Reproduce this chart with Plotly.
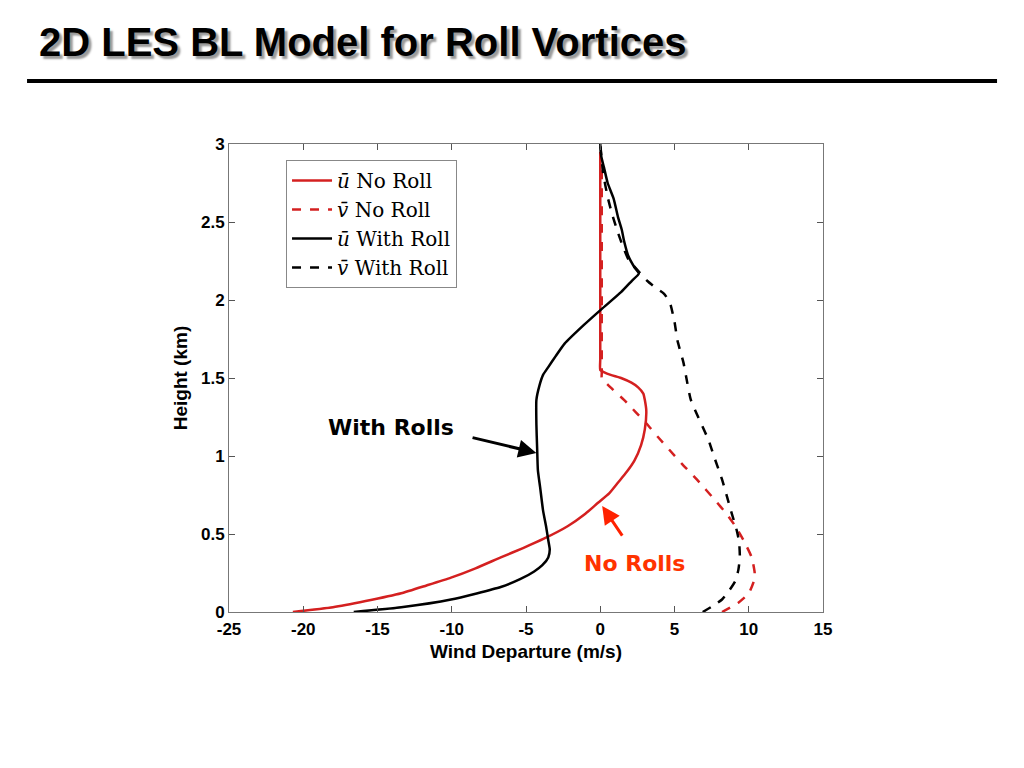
import plotly.graph_objects as go

# ---- data ----
red_u_y = [0, 0.03, 0.07, 0.12, 0.17, 0.22, 0.28, 0.35, 0.41, 0.47, 0.55, 0.63, 0.70, 0.76, 0.83, 0.90, 0.97, 1.07, 1.17, 1.29, 1.36, 1.40, 1.44, 1.47, 1.50, 1.52, 1.54, 1.55, 1.62, 2.00, 2.50, 2.95]
red_u_x = [-20.7, -18.0, -15.8, -13.4, -11.7, -10.05, -8.4, -6.7, -5.2, -3.8, -2.2, -1.0, -0.15, 0.6, 1.2, 1.8, 2.3, 2.75, 3.0, 3.1, 3.0, 2.9, 2.55, 2.1, 1.4, 0.7, 0.2, 0.0, 0.0, 0.0, 0.0, 0.0]

red_v_y = [0, 0.06, 0.12, 0.20, 0.25, 0.35, 0.45, 0.55, 0.63, 0.72, 0.85, 0.95, 1.04, 1.12, 1.21, 1.28, 1.36, 1.43, 1.50, 1.53, 1.62, 2.00, 2.50, 2.90]
red_v_x = [8.2, 9.3, 10.0, 10.35, 10.4, 10.2, 9.7, 9.1, 8.5, 7.7, 6.5, 5.5, 4.65, 3.9, 3.1, 2.4, 1.6, 0.8, 0.1, 0.1, 0.1, 0.1, 0.1, 0.1]

black_u_y = [0, 0.03, 0.08, 0.16, 0.21, 0.26, 0.30, 0.35, 0.40, 0.46, 0.55, 0.65, 0.80, 0.91, 1.05, 1.20, 1.36, 1.45, 1.52, 1.57, 1.64, 1.72, 1.84, 1.94, 2.05, 2.12, 2.17, 2.21, 2.28, 2.38, 2.45, 2.53, 2.65, 2.75, 2.85, 2.92, 3.0]
black_u_x = [-16.6, -13.4, -10.05, -6.7, -5.4, -4.45, -3.9, -3.5, -3.4, -3.5, -3.65, -3.85, -4.05, -4.2, -4.25, -4.3, -4.3, -4.1, -3.85, -3.5, -3.0, -2.4, -1.1, 0.07, 1.4, 2.1, 2.6, 2.3, 1.9, 1.6, 1.45, 1.2, 0.9, 0.5, 0.25, 0.07, 0.0]

black_v_y = [0, 0.04, 0.08, 0.14, 0.20, 0.27, 0.35, 0.45, 0.52, 0.65, 0.85, 1.00, 1.10, 1.36, 1.50, 1.60, 1.74, 1.86, 1.98, 2.04, 2.08, 2.12, 2.16, 2.26, 2.35, 2.43, 2.55, 2.66, 2.81, 2.90, 3.0]
black_v_x = [6.9, 7.6, 8.2, 8.7, 9.1, 9.3, 9.4, 9.35, 9.2, 8.8, 8.2, 7.65, 7.3, 6.1, 5.8, 5.6, 5.2, 5.0, 4.7, 4.3, 3.7, 3.2, 2.8, 1.9, 1.5, 1.2, 0.8, 0.5, 0.2, 0.1, 0.0]

x_ticks = [-25, -20, -15, -10, -5, 0, 5, 10, 15]
y_ticks = [0, 0.5, 1, 1.5, 2, 2.5, 3]

RED = "#d42020"
fig = go.Figure()
fig.add_trace(go.Scatter(x=red_u_x, y=red_u_y, mode="lines", name="<i>ū</i> No Roll",
                         line=dict(color=RED, width=2.5, shape="spline", smoothing=0.5)))
fig.add_trace(go.Scatter(x=red_v_x, y=red_v_y, mode="lines", name="<i>v̄</i> No Roll",
                         line=dict(color=RED, width=2.5, dash="dash", shape="spline", smoothing=0.5)))
fig.add_trace(go.Scatter(x=black_u_x, y=black_u_y, mode="lines", name="<i>ū</i> With Roll",
                         line=dict(color="black", width=2.5, shape="spline", smoothing=0.5)))
fig.add_trace(go.Scatter(x=black_v_x, y=black_v_y, mode="lines", name="<i>v̄</i> With Roll",
                         line=dict(color="black", width=2.5, dash="dash", shape="spline", smoothing=0.5)))

axis_common = dict(showgrid=False, zeroline=False, ticks="inside", ticklen=6,
                   tickcolor="#555555", showline=True, linecolor="#777777", linewidth=1,
                   mirror="ticks",
                   tickfont=dict(family="Liberation Sans", size=17, color="black", weight="bold"))

fig.update_layout(
    width=1024, height=768, paper_bgcolor="white", plot_bgcolor="white",
    margin=dict(l=221, r=209, t=136, b=164),
    showlegend=True,
    legend=dict(x=0.096, y=0.966, xanchor="left", yanchor="top",
                bgcolor="white", bordercolor="#888888", borderwidth=1,
                font=dict(family="DejaVu Serif", size=20, color="black"),
                tracegroupgap=0, itemwidth=40),
    xaxis=dict(range=[-25, 15], tickvals=x_ticks, ticktext=[str(t) for t in x_ticks],
               title=dict(text="Wind Departure (m/s)", standoff=6,
                          font=dict(family="Liberation Sans", size=19, color="black", weight="bold")),
               ticklabelstandoff=2,
               **axis_common),
    yaxis=dict(range=[0, 3], tickvals=y_ticks, ticktext=[str(t) for t in y_ticks],
               title=dict(text="Height (km)", standoff=8,
                          font=dict(family="Liberation Sans", size=19, color="black", weight="bold")),
               **axis_common),
)

# Title with shadow
title = "2D LES BL Model for Roll Vortices"
fig.add_annotation(text="<b>" + title + "</b>", xref="paper", yref="paper",
                   x=-0.323, y=1.218, xanchor="left", yanchor="middle",
                   showarrow=False,
                   font=dict(family="Liberation Sans", size=40, color="black",
                             shadow="3px 3px 2px #9a9a9a"))

fig.add_shape(type="line", xref="paper", yref="paper", x0=-0.34, x1=1.293,
              y0=1.1346, y1=1.1346, line=dict(color="black", width=4))

# Annotations
fig.add_annotation(x=-4.3, y=1.02, ax=-8.7, ay=1.12, xref="x", yref="y", axref="x", ayref="y",
                   text="", showarrow=True, arrowhead=2, arrowsize=1.2, arrowwidth=3, arrowcolor="black")
fig.add_annotation(x=-14.1, y=1.18, xref="x", yref="y", text="<b>With Rolls</b>", showarrow=False,
                   font=dict(family="DejaVu Sans", size=22, color="black"))
fig.add_annotation(x=0.13, y=0.68, ax=1.55, ay=0.48, xref="x", yref="y", axref="x", ayref="y",
                   text="", showarrow=True, arrowhead=2, arrowsize=1.2, arrowwidth=3, arrowcolor="#ff2200")
fig.add_annotation(x=2.3, y=0.31, xref="x", yref="y", text="<b>No Rolls</b>", showarrow=False,
                   font=dict(family="DejaVu Sans", size=22, color="#ff3300"))

fig.write_html("out.html")
